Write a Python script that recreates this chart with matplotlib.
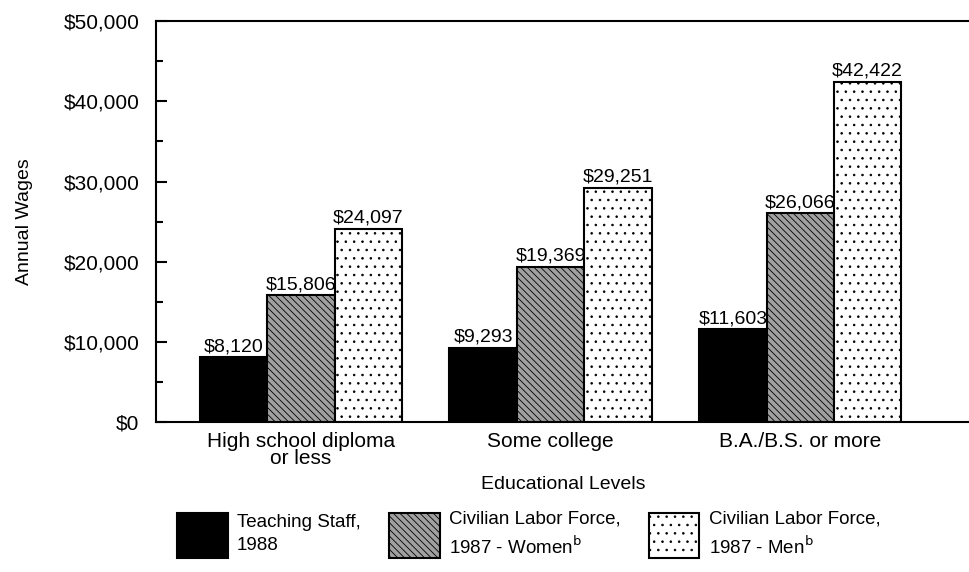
import matplotlib.pyplot as plt
import numpy as np

plt.rcParams['font.family'] = ['Liberation Sans', 'DejaVu Sans']
plt.rcParams['hatch.linewidth'] = 0.6

# Data
levels = ['High school diploma\nor less', 'Some college', 'B.A./B.S. or more']
teaching = [8120, 9293, 11603]
women = [15806, 19369, 26066]
men = [24097, 29251, 42422]
series_names = ['Teaching Staff,\n1988',
                'Civilian Labor Force,\n1987 - Women$^{\\mathrm{b}}$',
                'Civilian Labor Force,\n1987 - Men$^{\\mathrm{b}}$']

fig = plt.figure(figsize=(9.7, 5.72), dpi=100)
ax = fig.add_axes([0.161, 0.262, 0.839, 0.701])

x = np.arange(len(levels))
w = 0.27
styles = [
    dict(color='black', edgecolor='black'),
    dict(facecolor='#a0a0a0', edgecolor='black', hatch='\\\\\\\\\\'),
    dict(facecolor='white', edgecolor='black', hatch='..'),
]
for i, (vals, st) in enumerate(zip([teaching, women, men], styles)):
    bars = ax.bar(x + (i - 1) * w, vals, w, linewidth=1.5, label=series_names[i], **st)
    for b, v in zip(bars, vals):
        ax.text(b.get_x() + b.get_width() / 2, v + 250, '${:,}'.format(v),
                ha='center', va='bottom', fontsize=14)

ax.set_xlim(-0.58, 2.68)
ax.set_ylim(0, 50000)
ax.set_yticks(range(0, 50001, 10000))
ax.set_yticklabels(['${:,}'.format(v) for v in range(0, 50001, 10000)], fontsize=15)
ax.set_yticks(range(5000, 50000, 10000), minor=True)
ax.tick_params(axis='y', which='major', direction='in', length=8, width=1.5, pad=12)
ax.tick_params(axis='y', which='minor', direction='in', length=5, width=1.5)
ax.set_xticks(x)
ax.set_xticklabels(levels, fontsize=15, linespacing=0.85)
ax.tick_params(axis='x', length=0, pad=7)
ax.spines['right'].set_visible(False)
for s in ['left', 'top', 'bottom']:
    ax.spines[s].set_linewidth(1.5)

ax.set_ylabel('Annual Wages', fontsize=14, labelpad=22)
ax.set_xlabel('Educational Levels', fontsize=14, labelpad=6)

leg = fig.legend(loc='lower center', bbox_to_anchor=(0.545, -0.005), ncol=3, frameon=False,
                 fontsize=13.5, handlelength=2.7, handleheight=3.3, columnspacing=1.5,
                 handletextpad=0.5)
for t in leg.get_texts():
    t.set_linespacing(1.45)

plt.savefig('out.png', dpi=100)
